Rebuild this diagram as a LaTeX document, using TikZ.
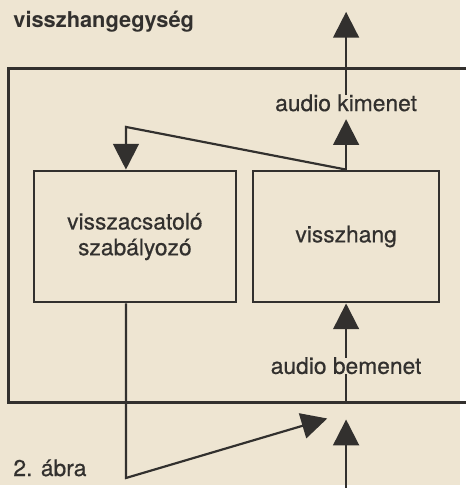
\documentclass[tikz,border=0pt]{standalone}
\usepackage{fontspec}
\setmainfont{TeX Gyre Heros}
\newfontfamily\inkfont{TeX Gyre Heros}[FakeBold=0.5]
\usetikzlibrary{arrows.meta, positioning, calc}
\definecolor{paper}{RGB}{238,229,210}
\definecolor{ink}{RGB}{50,48,46}

\begin{document}
\begin{tikzpicture}[x=1pt, y=-1pt,
    block/.style={rectangle, draw=ink, line width=2pt, minimum height=133pt, align=center, text=ink, font=\inkfont\fontsize{23}{26}\selectfont},
    label/.style={inner sep=0pt, text height=16pt, text depth=0pt, text=ink, font=\inkfont\fontsize{23}{26}\selectfont},
    frame/.style={draw=ink, line width=3pt},
    line/.style={draw=ink, line width=2.2pt},
    arrow/.style={line, -{Triangle[width=26pt, length=26pt]}}
]
\fill[paper] (0,0) rectangle (464,489);
\node[anchor=base west, text=ink, font=\fontsize{22}{26}\selectfont\bfseries] (title) at (10,28) {visszhangegység};
\node[anchor=base west, text=ink, font=\inkfont\fontsize{23}{26}\selectfont] (caption) at (10,480) {2. ábra};
% frame of the unit, open to the right
\coordinate (otr) at (470,69);
\coordinate (otl) at (9,69);
\coordinate (obl) at (9,406);
\coordinate (obr) at (470,406);
\draw[frame] (otr) -- (otl) -- (obl) -- (obr);
\node[block, minimum width=204pt] (szab) at (136,238.5) {visszacsatoló\\szabályozó};
\node[block, minimum width=188pt] (visszhang) at (349,238.5) {visszhang};
\node[label] (kimenet) at (349,104) {audio kimenet};
\node[label] (bemenet) at (349,369) {audio bemenet};
\coordinate (outtip) at (349,12);
\coordinate (intip) at (349,423);
\coordinate (inbase) at (349,492);
\coordinate (fbcorner) at (127,128);
\coordinate (fbbottom) at (127,482);
\coordinate (fbtip) at (330,422);
\draw[arrow] (kimenet.north) -- (outtip);
\draw[arrow, shorten >=8pt] (visszhang.north) -- (kimenet.south);
\draw[arrow] (visszhang.north) -- (fbcorner) -- (fbcorner |- szab.north);
\draw[arrow] (bemenet.north) -- (visszhang.south);
\draw[line] (bemenet.south) -- (bemenet.south |- obl);
\draw[arrow] (inbase) -- (intip);
\draw[arrow] (fbbottom |- szab.south) -- (fbbottom) -- (fbtip);
\end{tikzpicture}
\end{document}
